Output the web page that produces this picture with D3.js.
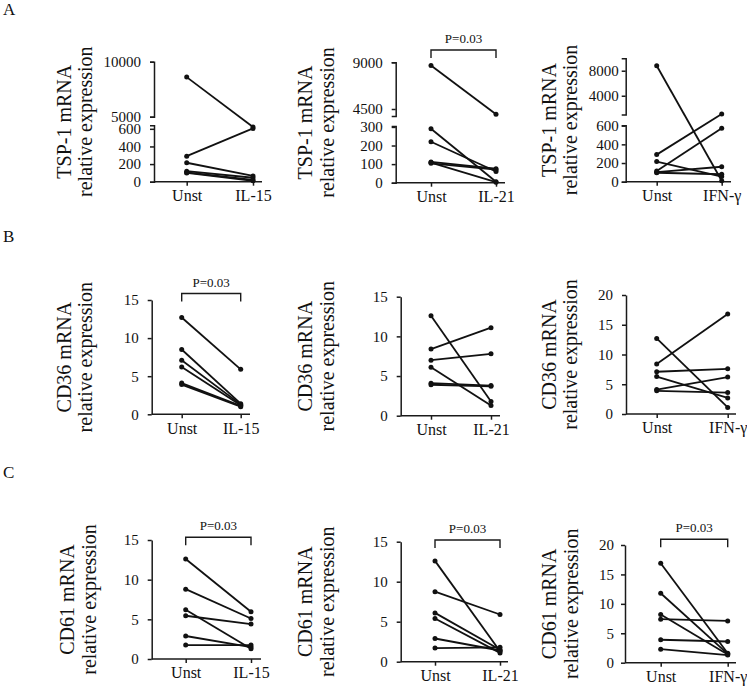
<!DOCTYPE html>
<html>
<head>
<meta charset="utf-8">
<script src="https://cdn.jsdelivr.net/npm/d3@7"></script>
<style>
body { margin: 0; background: #fff; }
text { font-family: "Liberation Serif", "Times New Roman", serif; fill: #111; }
</style>
</head>
<body>
<svg id="fig" width="747" height="686"></svg>
<script>
// values, one pair of arrays per panel (same donor order)
var genes = ["TSP-1", "CD36", "CD61"];
var stimuli = ["IL-15", "IL-21", "IFN-γ"];
var rowLetters = ["A", "B", "C"];
var baseLabel = "Unst";
var pText = "P=0.03";

var tspIl15Unst = [8600, 290, 215, 120, 105, 100],
    tspIl15Stim = [620, 605, 65, 45, 20, 10];
var tspIl21Unst = [8700, 290, 220, 112, 108, 104],
    tspIl21Stim = [4000, 5, 60, 75, 3, 70];
var tspIfnUnst = [8800, 290, 215, 115, 102, 96],
    tspIfnStim = [10, 725, 55, 572, 160, 80];

var cd36Il15Unst = [12.7, 8.5, 7.1, 6.2, 4.1, 3.9],
    cd36Il15Stim = [5.9, 1.4, 1.3, 1.2, 1.1, 1.0];
var cd36Il21Unst = [12.6, 8.4, 7.0, 6.1, 4.1, 3.9],
    cd36Il21Stim = [1.8, 11.1, 7.8, 1.3, 3.8, 3.7];
var cd36IfnUnst = [12.7, 8.4, 7.1, 6.3, 4.1, 3.9],
    cd36IfnStim = [1.1, 16.8, 7.6, 2.7, 6.2, 3.6];

var cd61Il15Unst = [12.6, 8.8, 6.2, 5.45, 2.9, 1.75],
    cd61Il15Stim = [5.95, 5.1, 1.3, 4.4, 1.5, 1.75];
var cd61Il21Unst = [12.6, 8.75, 6.1, 5.4, 2.9, 1.7],
    cd61Il21Stim = [1.3, 5.9, 1.5, 1.1, 1.4, 1.8];
var cd61IfnUnst = [16.9, 11.8, 8.2, 7.4, 3.9, 2.3],
    cd61IfnStim = [1.6, 1.5, 1.4, 7.1, 3.6, 1.3];

// tick labels
var tspIl15TicksHigh = [5000, 10000], tspIl15TicksLow = [0, 200, 400, 600];
var tspIl21TicksHigh = [4500, 9000], tspIl21TicksLow = [0, 100, 200, 300];
var tspIfnTicksHigh = [4000, 8000], tspIfnTicksLow = [0, 200, 400, 600];
var ticks15 = [0, 5, 10, 15], ticks20 = [0, 5, 10, 15, 20];

// panel layout (pixel positions)
var panels = [
    {row: 0, col: 0, unst: tspIl15Unst, stim: tspIl15Stim, ax: 154, ux: 186.7, sx: 253, xEnd: 262, y0: 181.7, pad: 9, labX: 85,
     low: {dom: [0, 640], rng: [181.7, 125.3], ticks: tspIl15TicksLow},
     high: {dom: [5000, 10000], rng: [116.7, 61.7], ticks: tspIl15TicksHigh}, cut: 1000},
    {row: 0, col: 1, unst: tspIl21Unst, stim: tspIl21Stim, ax: 395.7, ux: 431, sx: 496, xEnd: 505, y0: 182.7, pad: 9, labX: 326.5,
     low: {dom: [0, 305], rng: [182.7, 126], ticks: tspIl21TicksLow},
     high: {dom: [3825, 9000], rng: [116, 62.3], ticks: tspIl21TicksHigh}, cut: 1000, pTop: 50},
    {row: 0, col: 2, unst: tspIfnUnst, stim: tspIfnStim, ax: 625.7, ux: 656.7, sx: 721.7, xEnd: 731, y0: 181.7, pad: 3, labX: 570,
     low: {dom: [0, 605], rng: [181.7, 125.2], ticks: tspIfnTicksLow},
     high: {dom: [1000, 10000], rng: [114.5, 58.2], ticks: tspIfnTicksHigh}, cut: 1000},
    {row: 1, col: 0, unst: cd36Il15Unst, stim: cd36Il15Stim, ax: 151.7, ux: 181.7, sx: 240.7, xEnd: 250, y0: 414.3, pad: 9, labX: 85,
     dom: [0, 15], top: 300, ticks: ticks15, pTop: 293.5},
    {row: 1, col: 1, unst: cd36Il21Unst, stim: cd36Il21Stim, ax: 400.7, ux: 431, sx: 491, xEnd: 500, y0: 415.7, pad: 9, labX: 326.5,
     dom: [0, 15], top: 296.7, ticks: ticks15},
    {row: 1, col: 2, unst: cd36IfnUnst, stim: cd36IfnStim, ax: 626, ux: 656.7, sx: 727.7, xEnd: 736, y0: 414, pad: 9, labX: 570,
     dom: [0, 20], top: 295, ticks: ticks20},
    {row: 2, col: 0, unst: cd61Il15Unst, stim: cd61Il15Stim, ax: 151.7, ux: 185.7, sx: 251, xEnd: 261, y0: 659, pad: 9, labX: 88.5,
     dom: [0, 15], top: 540, ticks: ticks15, pTop: 537.3},
    {row: 2, col: 1, unst: cd61Il21Unst, stim: cd61Il21Stim, ax: 400.7, ux: 435, sx: 500, xEnd: 508, y0: 661.7, pad: 9, labX: 326.5,
     dom: [0, 15], top: 541.7, ticks: ticks15, pTop: 540},
    {row: 2, col: 2, unst: cd61IfnUnst, stim: cd61IfnStim, ax: 625, ux: 660.7, sx: 727.7, xEnd: 736, y0: 662.7, pad: 7, labX: 570.5,
     dom: [0, 20], top: 545, ticks: ticks20, pTop: 539.3}
];
var letterY = [15, 242, 478];

var svg = d3.select("#fig");
var serif = '"Liberation Serif", "Times New Roman", serif';

rowLetters.forEach(function (l, i) {
    svg.append("text").attr("x", 3).attr("y", letterY[i])
        .attr("font-size", 17).text(l);
});

var DrawYAxis = function (g, p, scale, ticks, outer) {
    var a = g.append("g")
        .attr("transform", "translate(" + p.ax + ",0)")
        .call(d3.axisLeft(scale).tickValues(ticks).tickSize(4)
            .tickSizeOuter(outer).tickPadding(p.pad).tickFormat(d3.format("d")));
    a.attr("font-size", 15).attr("font-family", serif).attr("color", "#1a1a1a");
    a.selectAll("path, line").attr("stroke-width", 1.5);
};

panels.forEach(function (p) {
    var g = svg.append("g");
    var y, yTop;

    if (p.high) {
        var lo = d3.scaleLinear().domain(p.low.dom).range(p.low.rng);
        var hi = d3.scaleLinear().domain(p.high.dom).range(p.high.rng);
        y = function (v) { return v < p.cut ? lo(v) : hi(v); };
        DrawYAxis(g, p, lo, p.low.ticks, 4);
        DrawYAxis(g, p, hi, p.high.ticks, 4);
        yTop = p.high.rng[1];
    } else {
        y = d3.scaleLinear().domain(p.dom).range([p.y0, p.top]);
        DrawYAxis(g, p, y, p.ticks, 0);
        yTop = p.top;
    }

    // x axis
    var x = d3.scalePoint().domain([baseLabel, stimuli[p.col]]).range([p.ux, p.sx]);
    var xa = g.append("g")
        .attr("transform", "translate(0," + p.y0 + ")")
        .call(d3.axisBottom(x).tickSize(4).tickSizeOuter(0).tickPadding(4));
    xa.select(".domain").remove();
    xa.attr("font-size", 16).attr("font-family", serif).attr("color", "#1a1a1a");
    xa.selectAll("line").attr("stroke-width", 1.5);
    g.append("line")
        .attr("x1", p.ax).attr("x2", p.xEnd)
        .attr("y1", p.y0).attr("y2", p.y0)
        .attr("stroke", "#1a1a1a").attr("stroke-width", 1.5);

    // y label
    var yc = (p.y0 + yTop) / 2;
    var lab = g.append("text")
        .attr("transform", "translate(" + p.labX + "," + yc + ") rotate(-90)")
        .attr("text-anchor", "middle").attr("font-size", 20);
    lab.append("tspan").attr("x", 0).attr("y", -21.5).attr("dy", "0.35em").text(genes[p.row] + " mRNA");
    lab.append("tspan").attr("x", 0).attr("y", 0).attr("dy", "0.35em").text("relative expression");

    // paired lines
    var line = d3.line()
        .x(function (d) { return x(d[0]); })
        .y(function (d) { return y(d[1]); });
    var pairs = p.unst.map(function (u, i) {
        return [[baseLabel, u], [stimuli[p.col], p.stim[i]]];
    });
    g.selectAll(".pair").data(pairs).enter().append("path")
        .attr("d", line).attr("fill", "none")
        .attr("stroke", "#111").attr("stroke-width", 1.8);
    pairs.forEach(function (pr) {
        pr.forEach(function (d) {
            g.append("circle").attr("cx", x(d[0])).attr("cy", y(d[1]))
                .attr("r", 2.5).attr("fill", "#111");
        });
    });

    // significance bracket
    if (p.pTop !== undefined) {
        g.append("path")
            .attr("d", "M" + p.ux + "," + (p.pTop + 8) + "V" + p.pTop + "H" + p.sx + "V" + (p.pTop + 8))
            .attr("fill", "none").attr("stroke", "#1a1a1a").attr("stroke-width", 1.4);
        g.append("text")
            .attr("x", (p.ux + p.sx) / 2).attr("y", p.pTop - 7)
            .attr("text-anchor", "middle").attr("font-size", 13)
            .text(pText);
    }
});
</script>
</body>
</html>
